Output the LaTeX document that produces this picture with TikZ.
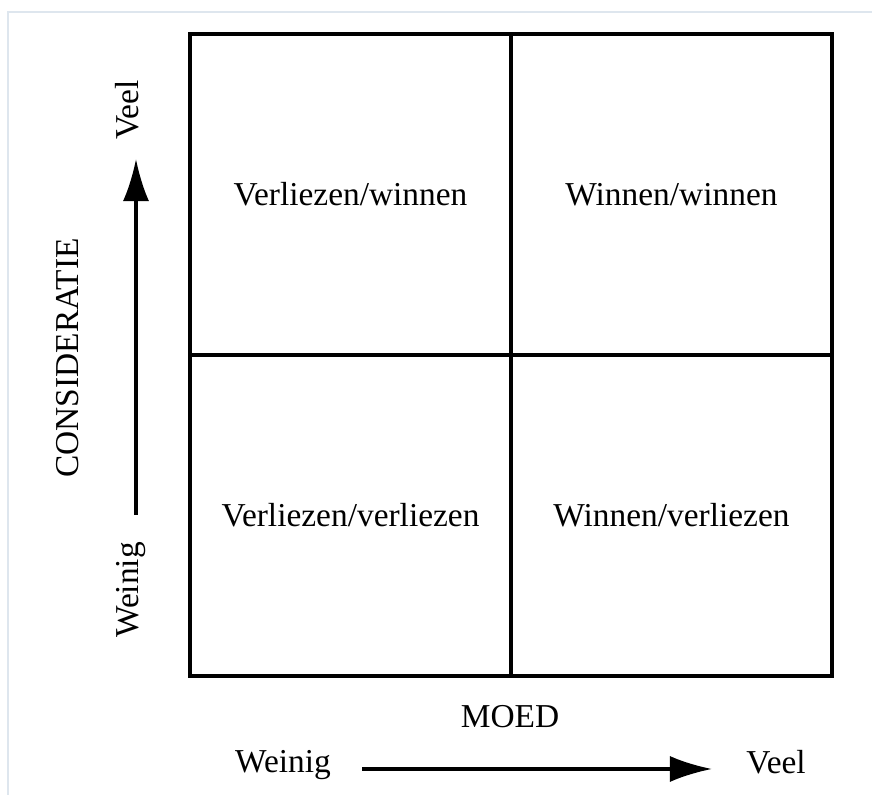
\documentclass[tikz,border=0pt]{standalone}
\usepackage{fontspec}
\setmainfont{Liberation Serif}
\usetikzlibrary{arrows.meta}
\tikzset{
  cell/.style={draw, line width=1pt, minimum size=3.21cm, inner sep=0pt},
  axislabel/.style={inner sep=1pt},
  axisarrow/.style={line width=0.9pt, -{Latex[length=4.2mm, width=2.6mm]}},
}
\newcommand{\lbl}{\fontsize{9.5}{11}\selectfont}
\begin{document}
\begin{tikzpicture}[x=0.01cm, y=-0.01cm, font=\lbl]
            \useasboundingbox (0,0) rectangle (872,795);
            % faint frame of the page
            \draw[color={rgb,255:red,222;green,230;blue,238}, line width=0.6pt] (8,795) -- (8,12) -- (872,12);
            % the four quadrants
            \node[cell] (lw) at (350.5,194.5) {Verliezen/winnen};
            \node[cell] (ww) at (671.5,194.5) {Winnen/winnen};
            \node[cell] (ll) at (350.5,515.5) {Verliezen/verliezen};
            \node[cell] (wl) at (671.5,515.5) {Winnen/verliezen};
            % horizontal axis
            \node[axislabel] (moed) at (510,717) {MOED};
            \node[axislabel] (xlow) at (283,765) {Weinig};
            \node[axislabel] (xhigh) at (776,762) {Veel};
            \coordinate (xfrom) at (362,769);
            \coordinate (xto) at (712,769);
            \draw[axisarrow] (xfrom) -- (xto);
            % vertical axis
            \node[axislabel, rotate=90] (consid) at (68,358) {CONSIDERATIE};
            \node[axislabel, rotate=90] (ylow) at (131,590) {Weinig};
            \node[axislabel, rotate=90] (yhigh) at (127,110) {Veel};
            \coordinate (yfrom) at (136,515);
            \coordinate (yto) at (136,159);
            \draw[axisarrow] (yfrom) -- (yto);
        \end{tikzpicture}
\end{document}
